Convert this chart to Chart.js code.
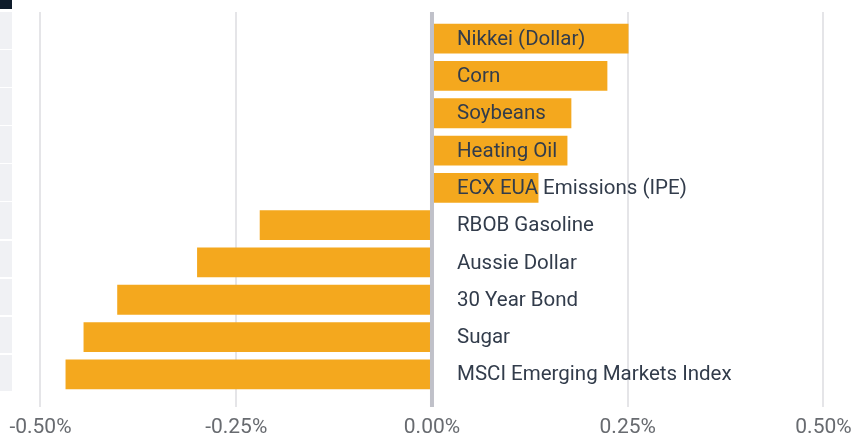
<!DOCTYPE html>
<html>
<head>
<meta charset="utf-8">
<script src="https://cdn.jsdelivr.net/npm/chart.js@4.4.1/dist/chart.umd.min.js"></script>
<style>
    html, body { margin: 0; padding: 0; background: #fff; }
    #wrap { position: relative; width: 853px; height: 438px; }
    #side-top { position: absolute; left: 0; top: 0; width: 12px; height: 9px; background: #0e1c2b; }
    #side-cells {
        position: absolute; left: 0; top: 12px; width: 12px; height: 381px;
        background: repeating-linear-gradient(to bottom, #f0f1f4 0px, #f0f1f4 36.6px, #fff 36.6px, #fff 38.1px);
    }
</style>
</head>
<body>
<div id="wrap">
    <canvas id="perf-bar-chart" width="853" height="438"></canvas>
    <div id="side-top"></div>
    <div id="side-cells"></div>
</div>
<script>
const categories = [
    'Nikkei (Dollar)', 'Corn', 'Soybeans', 'Heating Oil', 'ECX EUA Emissions (IPE)',
    'RBOB Gasoline', 'Aussie Dollar', '30 Year Bond', 'Sugar', 'MSCI Emerging Markets Index'
];
const changes = [0.251, 0.224, 0.178, 0.173, 0.136, -0.220, -0.300, -0.402, -0.445, -0.468];
const tickValues = [-0.5, -0.25, 0, 0.25, 0.5];
const xMin = -0.5517;
const xMax = 0.5377;

const barColor = '#f4a81e';
const gridColor = '#e5e5e8';
const zeroColor = '#c0c1c9';

const setTicks = scale => {
    scale.ticks = tickValues.map(v => ({value: v}));
};

// no side padding for the edge labels, the grid spans the whole width
const noSidePadding = scale => {
    scale.paddingLeft = 0;
    scale.paddingRight = 0;
};

// labels sit just right of the zero line, zero line is drawn on top of the bars
const overlayPlugin = {
    id: 'overlay',
    afterDatasetsDraw(chart) {
        const ctx = chart.ctx;
        const x = chart.scales.x;
        const y = chart.scales.y;
        const x0 = x.getPixelForValue(0);

        ctx.save();
        ctx.strokeStyle = zeroColor;
        ctx.lineWidth = 4;
        ctx.beginPath();
        ctx.moveTo(x0, chart.scales.x2.top);
        ctx.lineTo(x0, chart.chartArea.bottom + x.options.grid.tickLength);
        ctx.stroke();

        ctx.fillStyle = '#323c4b';
        ctx.font = '20.5px Roboto';
        ctx.textAlign = 'left';
        ctx.textBaseline = 'middle';
        categories.forEach((c, i) => {
            ctx.fillText(c, x0 + 25, y.getPixelForValue(i) + 1);
        });
        ctx.restore();
    }
};

const data = {
    labels: categories,
    datasets: [
        {
            data: changes,
            backgroundColor: barColor,
            borderWidth: 0,
            barPercentage: 0.8,
            categoryPercentage: 1
        }
    ]
};

var config = {
    type: 'bar',
    data: data,
    options: {
        indexAxis: 'y',
        responsive: false,
        animation: false,
        layout: {
            padding: {top: 12, left: 0, right: 0, bottom: 0}
        },
        plugins: {
            legend: {display: false},
            tooltip: {enabled: false}
        },
        scales: {
            x: {
                type: 'linear',
                position: 'bottom',
                min: xMin,
                max: xMax,
                afterBuildTicks: setTicks,
                afterFit: scale => {
                    noSidePadding(scale);
                    scale.height = 45;
                },
                border: {display: false},
                grid: {
                    color: gridColor,
                    lineWidth: 2,
                    tickLength: 14
                },
                ticks: {
                    padding: 10,
                    color: '#686b70',
                    font: {family: 'Roboto', size: 21, lineHeight: 1},
                    callback: v => v.toFixed(2) + '%'
                }
            },
            x2: {
                type: 'linear',
                position: 'top',
                min: xMin,
                max: xMax,
                afterBuildTicks: setTicks,
                afterFit: noSidePadding,
                border: {display: false},
                grid: {
                    color: gridColor,
                    lineWidth: 2,
                    drawOnChartArea: false,
                    tickLength: 8
                },
                ticks: {display: false}
            },
            y: {
                display: false
            }
        }
    },
    plugins: [overlayPlugin]
};

var ctx = document.getElementById('perf-bar-chart').getContext('2d');
window.perfBarChart = new Chart(ctx, config);
</script>
</body>
</html>
